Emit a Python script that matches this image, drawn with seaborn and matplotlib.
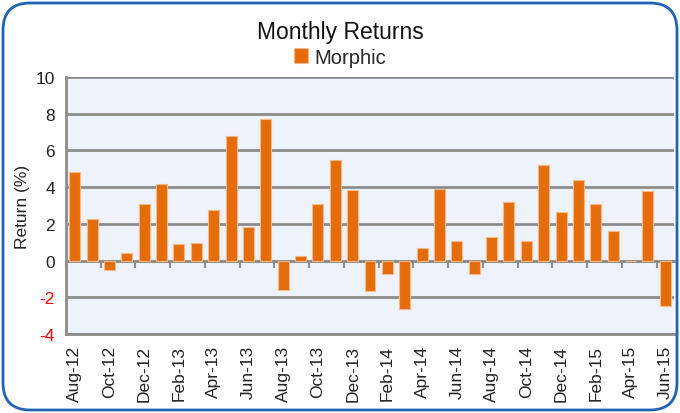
import matplotlib
matplotlib.use("Agg")
import matplotlib.pyplot as plt
import seaborn as sns
import pandas as pd
from matplotlib.patches import FancyBboxPatch

months = ["Aug-12", "Sep-12", "Oct-12", "Nov-12", "Dec-12", "Jan-13", "Feb-13", "Mar-13",
          "Apr-13", "May-13", "Jun-13", "Jul-13", "Aug-13", "Sep-13", "Oct-13", "Nov-13",
          "Dec-13", "Jan-14", "Feb-14", "Mar-14", "Apr-14", "May-14", "Jun-14", "Jul-14",
          "Aug-14", "Sep-14", "Oct-14", "Nov-14", "Dec-14", "Jan-15", "Feb-15", "Mar-15",
          "Apr-15", "May-15", "Jun-15"]
returns = [4.8, 2.27, -0.54, 0.40, 3.1, 4.16, 0.89, 0.98,
           2.78, 6.76, 1.84, 7.7, -1.58, 0.24, 3.1, 5.47,
           3.84, -1.67, -0.72, -2.63, 0.71, 3.91, 1.06, -0.74,
           1.27, 3.18, 1.09, 5.23, 2.62, 4.41, 3.07, 1.6,
           0.0, 3.78, -2.45]
series_name = "Morphic"
yticks = [-4, -2, 0, 2, 4, 6, 8, 10]

sns.set_style("white")
plt.rcParams["font.family"] = ["Liberation Sans", "DejaVu Sans"]

df = pd.DataFrame({"Month": months, "Return": returns, "Series": series_name})

fig = plt.figure(figsize=(6.8, 4.14), dpi=100)
ax = fig.add_axes([66 / 680, 1 - 335 / 414, 608 / 680, 257 / 414])
ax.set_facecolor("#eef2fa")

orange = "#e46c0a"
sns.barplot(data=df, x="Month", y="Return", hue="Series", palette=[orange],
            saturation=1, width=0.63, edgecolor="#f5b98a", linewidth=0.8,
            ax=ax, zorder=3)

ax.set_ylim(-4, 10)
ax.set_xlim(-0.5, len(months) - 0.5)
ax.set_yticks(yticks)
ax.set_yticklabels([str(t) for t in yticks], fontsize=12.5)
for lab, t in zip(ax.get_yticklabels(), yticks):
    lab.set_color("#ff0000" if t < 0 else "#222222")
ax.tick_params(axis="y", length=0, pad=8)

grid_color = "#8c8c8c"
for t in yticks:
    ax.axhline(t, color=grid_color, lw=2, zorder=1)

idx = list(range(len(months)))
ax.set_xticks(idx[::2])
ax.set_xticklabels(months[::2], rotation=90, fontsize=12.5, color="#222222")
ax.tick_params(axis="x", length=0, pad=8)

# category axis at zero with tick marks between categories
sec = ax.secondary_xaxis(4 / 14)
sec.set_xticks([i - 0.5 for i in idx[::2]])
sec.set_xticklabels([])
sec.tick_params(axis="x", length=5, width=1.5, color=grid_color, direction="out")
sec.spines["bottom"].set_color(grid_color)
sec.spines["bottom"].set_linewidth(2)

for s in ["top", "right"]:
    ax.spines[s].set_visible(False)
ax.spines["left"].set_color(grid_color)
ax.spines["left"].set_linewidth(2)
ax.spines["bottom"].set_color(grid_color)
ax.spines["bottom"].set_linewidth(2)

ax.set_xlabel("")
ax.set_ylabel("Return (%)", fontsize=12.5, color="#222222", labelpad=4)

leg = ax.legend(loc="center", bbox_to_anchor=(0.5, 1 - 58 / 414),
                bbox_transform=fig.transFigure, frameon=False, fontsize=14.5,
                handlelength=0.7, handleheight=0.7, handletextpad=0.3, borderpad=0)

fig.text(0.5, 1 - 33 / 414, "Monthly Returns", ha="center", va="center",
         fontsize=16.5, color="#111111")

border = FancyBboxPatch((3 / 680, 3 / 414), 674 / 680, 407 / 414,
                        boxstyle="round,pad=0,rounding_size=0.04",
                        transform=fig.transFigure, fill=False,
                        edgecolor="#1f64b4", linewidth=2, mutation_aspect=680 / 414)
fig.patches.append(border)

fig.savefig("out.png", dpi=100)
